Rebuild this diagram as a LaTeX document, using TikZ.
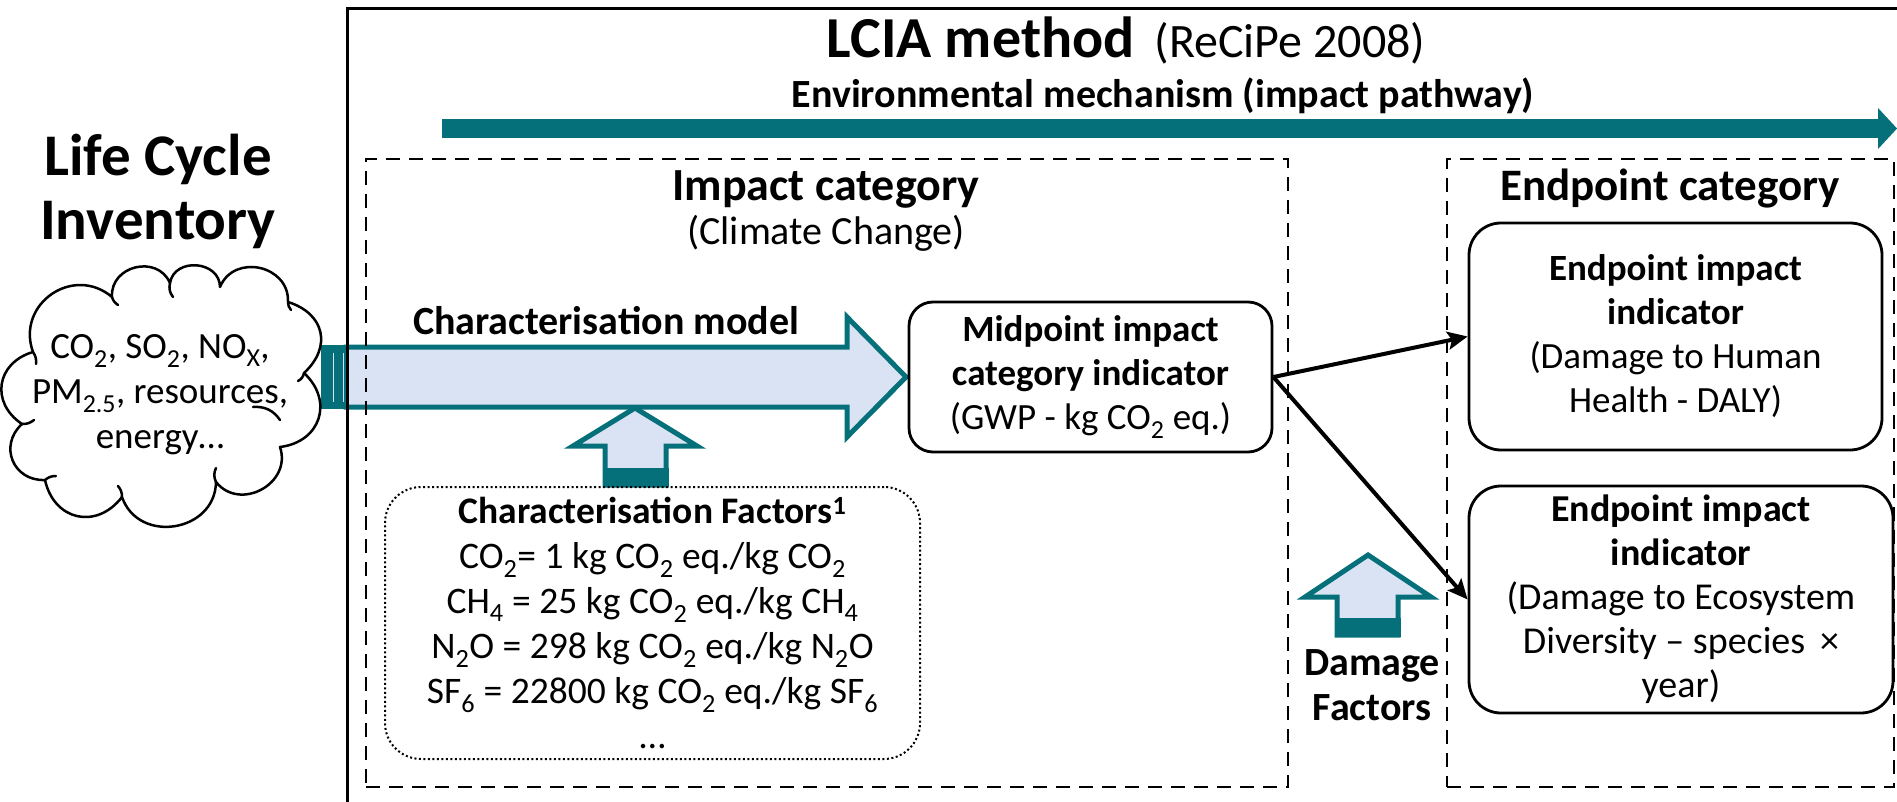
\documentclass[tikz,border=0pt]{standalone}
\usepackage{fontspec}
\setmainfont{Carlito}
\usetikzlibrary{arrows.meta}
\definecolor{tealA}{HTML}{05707A}
\definecolor{lightfill}{HTML}{DAE3F3}
\newcommand\fsz[2]{\fontsize{#1}{#2}\selectfont}
\newcommand\sub[1]{\textsubscript{#1}}
\begin{document}
\begin{tikzpicture}[x=1pt,y=-1pt,
  txt/.style={inner sep=0pt, align=center, font=\fsz{37}{45}},
  dashbox/.style={draw, dash pattern=on 14pt off 9pt, line width=2.5pt, inner sep=0pt},
  rbox/.style={draw, line width=2.8pt, rounded corners=32pt, inner sep=0pt, align=center, font=\fsz{37}{44}},
  hollow/.style={fill=lightfill, draw=tealA, line width=5pt, line join=miter},
  blackarrow/.style={line width=4pt, -{Stealth[length=20pt,width=18pt,inset=4pt]}},
  cloudline/.style={line width=2.5pt, line join=round, line cap=round},
  puff/.style={bend left=#1, looseness=1.35},
]
\useasboundingbox (0,0) rectangle (1897,802);

% block arrows (drawn first, frames drawn over them)
\path[hollow] (346,347) -- (847,347) -- (847,317) -- (906,377) -- (847,437) -- (847,407) -- (346,407) -- cycle;
\fill[tealA] (321,345) rectangle (347,409);
\draw[lightfill, line width=1pt] (333,353) -- (333,402) (343,353) -- (343,402);

\path[hollow] (605,485) -- (605,446) -- (573,446) -- (635,408) -- (697,446) -- (666,446) -- (666,485) -- cycle;
\fill[tealA] (602.5,468) rectangle (668.5,487);

\path[hollow] (1337,635) -- (1337,597) -- (1305,597) -- (1368,555) -- (1431,597) -- (1398,597) -- (1398,635) -- cycle;
\fill[tealA] (1334.5,618) rectangle (1400.5,637);

% environmental mechanism arrow
\fill[tealA] (442,119) rectangle (1879,138);
\fill[tealA] (1878,108) -- (1897,128.5) -- (1878,149) -- cycle;

% outer frame
\draw[line width=3pt] (347,900) -- (347,8.5) -- (1990,8.5);

% dashed category boxes
\node[dashbox, minimum width=922pt, minimum height=628pt] (impbox) at (827,473) {};
\node[dashbox, minimum width=447pt, minimum height=628pt] (endbox) at (1670.5,473) {};

% texts
\node[anchor=base, inner sep=0pt] (title) at (1126,58) {{\bfseries\fsz{58}{64}LCIA method}\hspace{20pt}{\fsz{48}{54}(ReCiPe 2008)}};
\node[anchor=base, inner sep=0pt, font=\bfseries\fsz{40}{48}] (env) at (1163,108) {Environmental mechanism (impact pathway)};
\node[txt, font=\bfseries\fsz{59}{64}] (lci) at (158,191) {Life Cycle\\Inventory};
\node[anchor=base, inner sep=0pt, font=\bfseries\fsz{46}{52}] (impcat) at (826,201) {Impact category};
\node[anchor=base, inner sep=0pt, font=\fsz{40}{46}] (clim) at (826,245) {(Climate Change)};
\node[anchor=base, inner sep=0pt, font=\bfseries\fsz{45}{52}] (endcat) at (1670,201) {Endpoint category};
\node[anchor=base, inner sep=0pt, font=\bfseries\fsz{40}{46}] (cmodel) at (606,334) {Characterisation model};
\node[txt, font=\bfseries\fsz{40}{45}] (damage) at (1372,685) {Damage\\Factors};

% cloud outline
\draw[cloudline] (33,352) to[puff=75] (112,297) to[puff=80] (170,283)
  to[puff=85] (220,287) to[puff=80] (288,302) to[puff=60] (304,373)
  to[puff=65] (280,447) to[puff=80] (216,482) to[puff=80] (122,497)
  to[puff=65] (45,480) to[puff=70] (22,424) to[puff=65] (33,352);
% small inner hooks of the cloud
\draw[cloudline] (33,352) to[bend left=20] (36,364);
\draw[cloudline] (112,297) to[bend right=20] (118,305);
\draw[cloudline] (170,283) to[bend right=25] (173,297);
\draw[cloudline] (288,302) to[bend right=20] (291,310);
\draw[cloudline] (304,373) to[bend left=25] (298,381);
\draw[cloudline] (216,482) to[bend left=25] (216,468);
\draw[cloudline] (122,497) to[bend right=20] (118,486);
\draw[cloudline] (45,480) to[bend left=20] (56,476);
\draw[cloudline] (22,424) to[bend right=20] (34,420);
\draw[cloudline] (253,407) to[bend left=30] (280,420);
\node[txt] (cloudtxt) at (160,395) {CO\sub{2}, SO\sub{2}, NO\sub{X},\\PM\sub{2.5}, resources,\\energy…};

% boxes
\node[rbox, rounded corners=24pt, minimum width=363pt, minimum height=150pt] (mid) at (1090.5,377) {\textbf{Midpoint impact}\\\textbf{category indicator}\\(GWP - kg CO\sub{2} eq.)};
\node[rbox, minimum width=413pt, minimum height=227pt] (ep1) at (1675.5,336.5) {\textbf{Endpoint impact}\\\textbf{indicator}\\(Damage to Human\\Health - DALY)};
\node[rbox, font=\fsz{38}{44}, minimum width=424pt, minimum height=227pt] (ep2) at (1681,599.5) {\textbf{Endpoint impact}\\\textbf{indicator}\\(Damage to Ecosystem\\Diversity – species \,×\\year)};
\node[draw, line width=2pt, dash pattern=on 2pt off 2.5pt, rounded corners=36pt, minimum width=535pt, minimum height=272pt, inner sep=0pt, align=center, font=\fsz{37.5}{45}] (cf) at (652.5,623) {\textbf{Characterisation Factors\textsuperscript{1}}\\CO\sub{2}= 1 kg CO\sub{2} eq./kg CO\sub{2}\\CH\sub{4} = 25 kg CO\sub{2} eq./kg CH\sub{4}\\N\sub{2}O = 298 kg CO\sub{2} eq./kg N\sub{2}O\\SF\sub{6} = 22800 kg CO\sub{2} eq./kg SF\sub{6}\\…};

% connectors
\draw[blackarrow] (mid.east) -- (ep1.west);
\draw[blackarrow] (mid.east) -- (ep2.west);
\end{tikzpicture}
\end{document}
